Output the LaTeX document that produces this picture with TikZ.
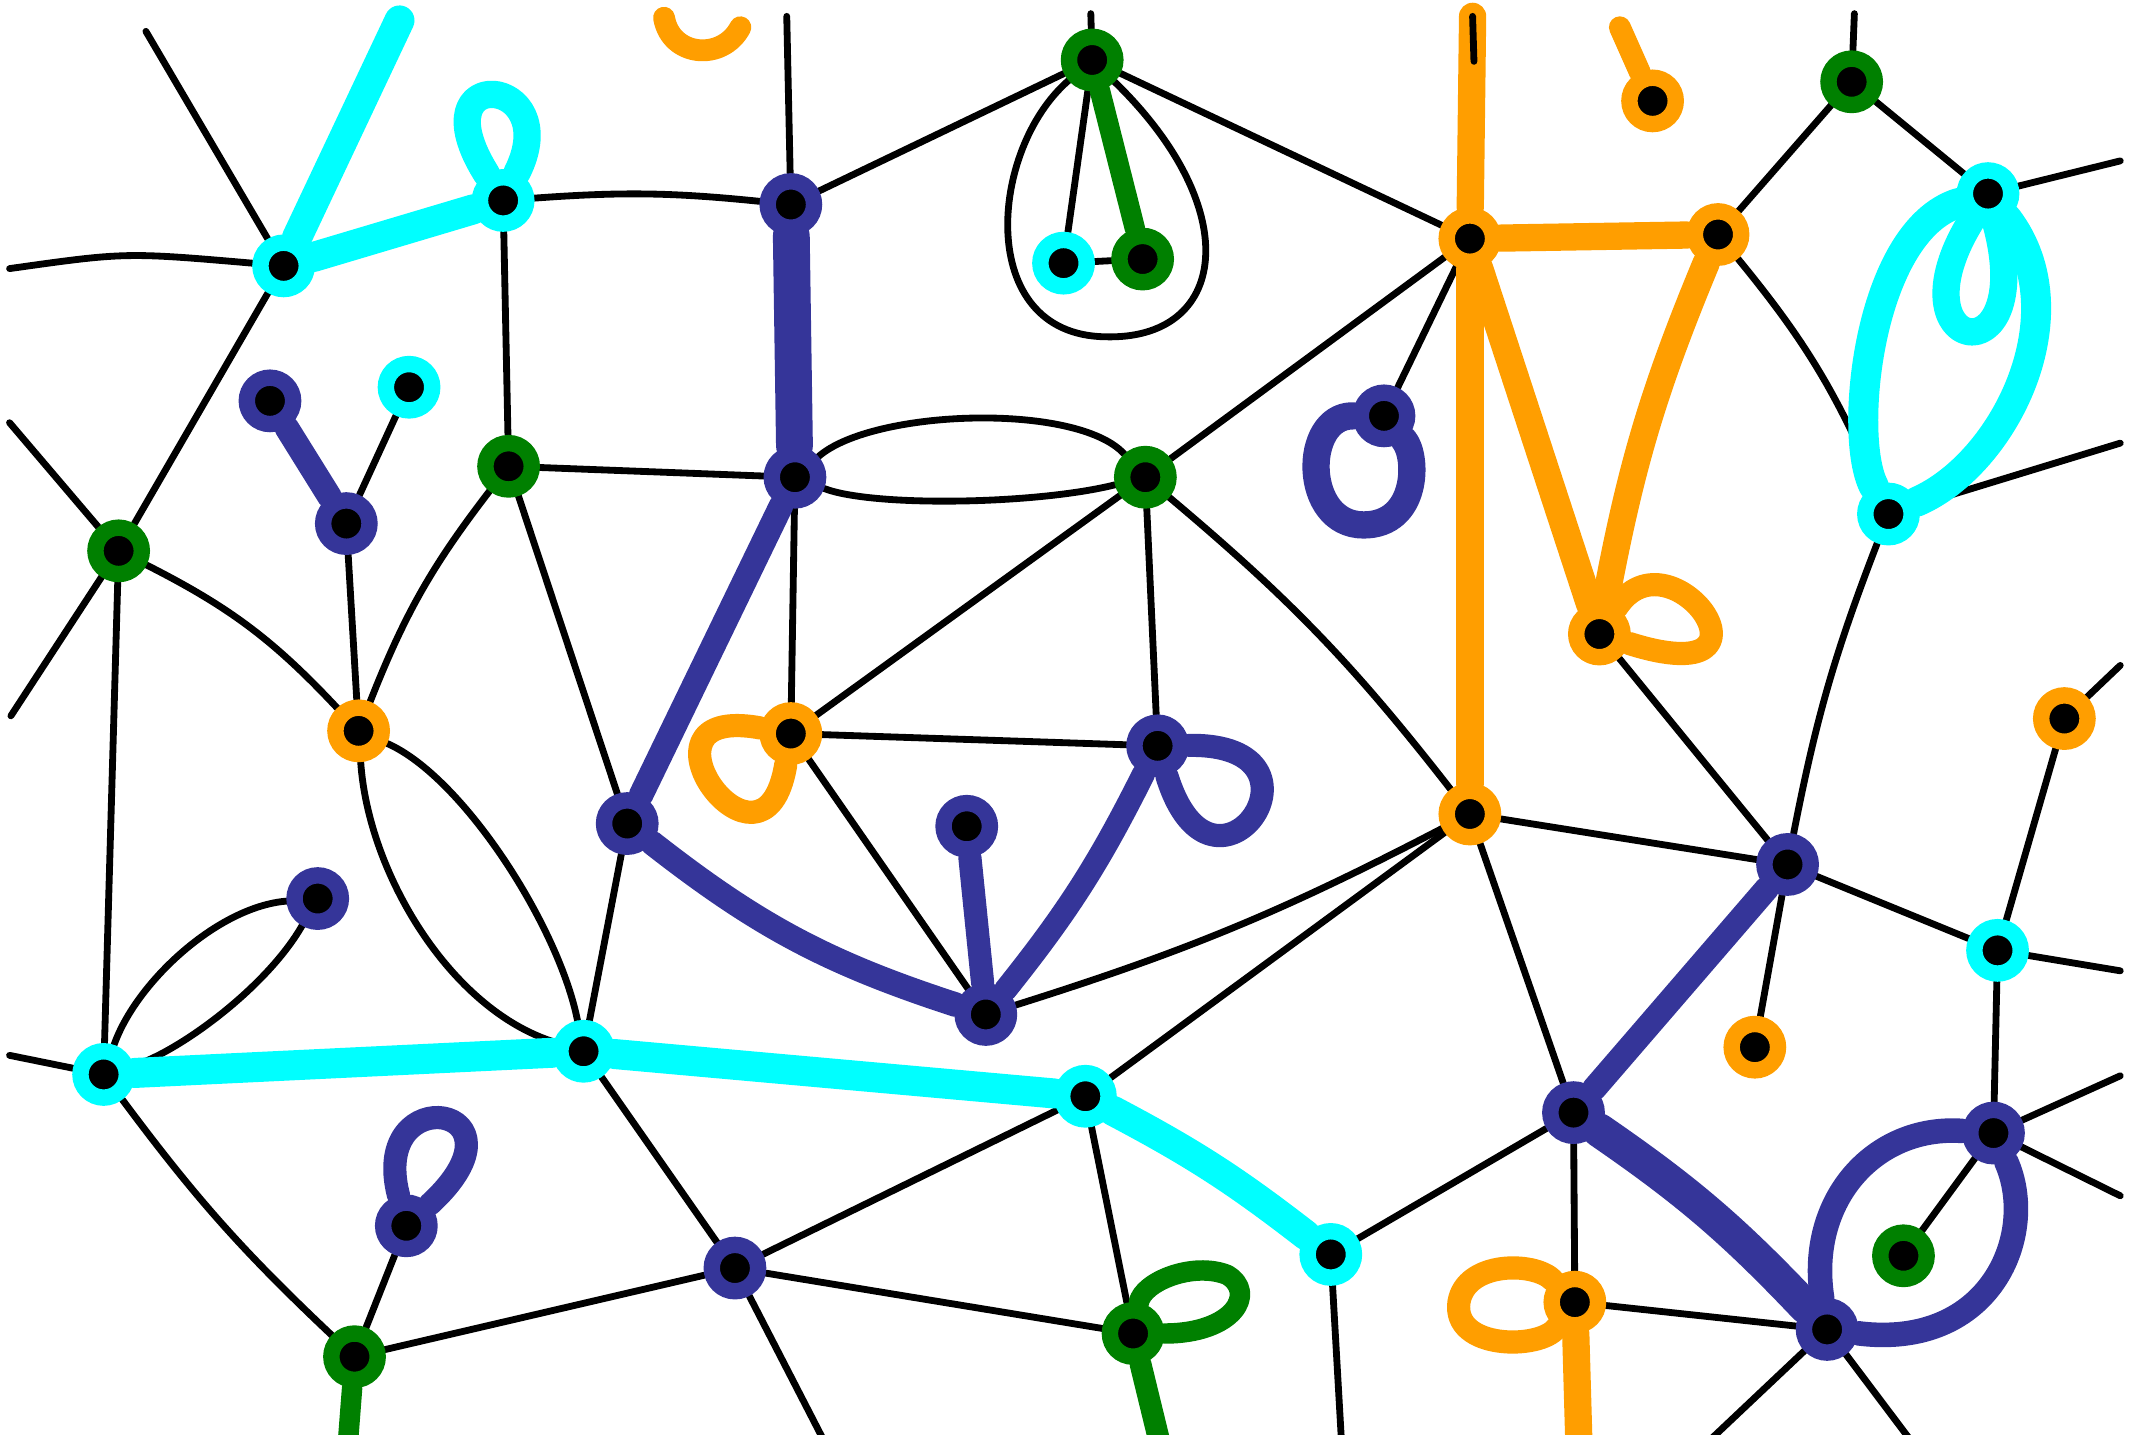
\documentclass[tikz,border=0pt]{standalone}
\usetikzlibrary{backgrounds}
\definecolor{cyanc}{RGB}{0,255,255}
\definecolor{navyc}{RGB}{53,53,153}
\definecolor{greenc}{RGB}{0,128,0}
\definecolor{orangec}{RGB}{255,158,0}
\tikzset{
  vtx/.style={circle, fill=black, inner sep=0pt, minimum size=0.34cm, line width=0.12cm},
  cy/.style={vtx, draw=cyanc},
  nv/.style={vtx, draw=navyc},
  gr/.style={vtx, draw=greenc},
  og/.style={vtx, draw=orangec},
  ln/.style={line width=0.05cm, line cap=round, line join=round},
  fat/.style={line width=#1, line cap=round, line join=round},
  fat/.default=0.2cm
}
\begin{document}
\begin{tikzpicture}[x=0.01cm, y=-0.01cm]
\useasboundingbox (0,0) rectangle (1568,1052);
% vertices
\node[cy] (c1) at (208,195) {};
\node[cy] (c2) at (369,147) {};
\node[cy] (c3) at (780,193) {};
\node[cy] (c4) at (300,284) {};
\node[cy] (c5) at (1458,142) {};
\node[cy] (c6) at (1385,377) {};
\node[cy] (c7) at (1465,697) {};
\node[cy] (c8) at (76,788) {};
\node[cy] (c9) at (428,771) {};
\node[cy] (c10) at (796,804) {};
\node[cy] (c11) at (976,920) {};
\node[nv] (n1) at (580,150) {};
\node[nv] (n2) at (198,294) {};
\node[nv] (n3) at (583,350) {};
\node[nv] (n4) at (1015,305) {};
\node[nv] (n5) at (254,384) {};
\node[nv] (n6) at (849,547) {};
\node[nv] (n7) at (460,604) {};
\node[nv] (n8) at (709,606) {};
\node[nv] (n9) at (1311,634) {};
\node[nv] (n10) at (233,659) {};
\node[nv] (n11) at (723,744) {};
\node[nv] (n12) at (1154,816) {};
\node[nv] (n13) at (1462,831) {};
\node[nv] (n14) at (298,899) {};
\node[nv] (n15) at (539,930) {};
\node[nv] (n16) at (1340,975) {};
\node[gr] (g1) at (801,44) {};
\node[gr] (g2) at (838,190) {};
\node[gr] (g3) at (373,342) {};
\node[gr] (g4) at (840,350) {};
\node[gr] (g5) at (87,404) {};
\node[gr] (g6) at (1358,60) {};
\node[gr] (g7) at (1396,921) {};
\node[gr] (g8) at (831,978) {};
\node[gr] (g9) at (260,995) {};
\node[og] (o1) at (1078,175) {};
\node[og] (o2) at (1212,74) {};
\node[og] (o3) at (1260,172) {};
\node[og] (o4) at (1173,465) {};
\node[og] (o5) at (263,536) {};
\node[og] (o6) at (580,538) {};
\node[og] (o7) at (1514,527) {};
\node[og] (o8) at (1078,597) {};
\node[og] (o9) at (1287,768) {};
\node[og] (o10) at (1155,955) {};
% loose ends
\coordinate (e1) at (293,15);
\coordinate (e2) at (7,197);
\coordinate (e3) at (107,23);
\coordinate (e4) at (577,12);
\coordinate (e5) at (800,10);
\coordinate (e6) at (1080,12);
\coordinate (e6b) at (1081,45);
\coordinate (e7) at (1188,20);
\coordinate (e8) at (1360,10);
\coordinate (e9) at (1555,118);
\coordinate (e10) at (1555,325);
\coordinate (e11) at (7,310);
\coordinate (e12) at (8,525);
\coordinate (e13) at (1555,488);
\coordinate (e14) at (1555,712);
\coordinate (e15) at (1555,789);
\coordinate (e16) at (1555,877);
\coordinate (e17) at (7,774);
\coordinate (e18) at (255,1060);
\coordinate (e19) at (606,1060);
\coordinate (e20) at (851,1060);
\coordinate (e21) at (984,1060);
\coordinate (e22) at (1158,1060);
\coordinate (e23) at (1250,1060);
\coordinate (e24) at (1404,1060);
\begin{scope}[on background layer]
% black edges
\draw[ln] (e2) .. controls (92,185) .. (c1);
\draw[ln] (e3) -- (c1);
\draw[ln] (c1) -- (g5);
\draw[ln] (c2) to[bend left=5] (n1);
\draw[ln] (c2) -- (g3);
\draw[ln] (n1) -- (e4);
\draw[ln] (n1) -- (g1);
\draw[ln] (g1) -- (e5);
\draw[ln] (g1) -- (c3);
\draw[ln] (c3) -- (g2);
\draw[ln] (g1) .. controls (725,110) and (715,245) .. (810,247) .. controls (900,250) and (915,155) .. (g1);
\draw[ln] (g1) -- (o1);
\draw[ln] (o3) -- (g6);
\draw[ln] (g6) -- (e8);
\draw[ln] (g6) -- (c5);
\draw[ln] (c5) -- (e9);
\draw[ln] (o3) to[bend left=8] (c6);
\draw[ln] (c6) -- (e10);
\draw[ln] (c6) to[bend right=5] (n9);
\draw[ln] (o4) -- (n9);
\draw[ln] (g3) -- (n3);
\draw[ln] (g3) to[bend right=8] (o5);
\draw[ln] (g3) -- (n7);
\draw[ln] (c4) -- (n5);
\draw[ln] (n5) -- (o5);
\draw[ln] (g5) to[bend left=10] (o5);
\draw[ln] (g5) -- (c8);
\draw[ln] (e11) -- (g5);
\draw[ln] (e12) -- (g5);
\draw[ln] (n3) .. controls (640,300) and (790,295) .. (g4);
\draw[ln] (n3) .. controls (640,372) and (760,370) .. (g4);
\draw[ln] (n3) -- (o6);
\draw[ln] (g4) -- (o1);
\draw[ln] (g4) -- (n6);
\draw[ln] (g4) -- (o6);
\draw[ln] (g4) to[bend left=6] (o8);
\draw[ln] (o1) -- (n4);
\draw[ln] (o6) -- (n6);
\draw[ln] (o6) -- (n11);
\draw[ln] (n7) -- (c9);
\draw[ln] (o5) .. controls (270,640) and (330,740) .. (c9);
\draw[ln] (o5) .. controls (340,570) and (410,680) .. (c9);
\draw[ln] (c9) -- (n15);
\draw[ln] (c8) .. controls (100,720) and (160,665) .. (n10);
\draw[ln] (c8) .. controls (130,772) and (195,725) .. (n10);
\draw[ln] (e17) -- (c8);
\draw[ln] (c8) to[bend right=5] (g9);
\draw[ln] (n14) -- (g9);
\draw[ln] (g9) -- (n15);
\draw[ln] (n15) -- (c10);
\draw[ln] (n15) -- (g8);
\draw[ln] (n15) -- (e19);
\draw[ln] (c10) -- (g8);
\draw[ln] (c10) -- (o8);
\draw[ln] (n11) to[bend right=5] (o8);
\draw[ln] (o8) -- (n9);
\draw[ln] (o8) -- (n12);
\draw[ln] (n9) -- (c7);
\draw[ln] (n9) -- (o9);
\draw[ln] (o7) -- (c7);
\draw[ln] (o7) -- (e13);
\draw[ln] (c7) -- (e14);
\draw[ln] (c7) -- (n13);
\draw[ln] (n13) -- (e15);
\draw[ln] (n13) -- (e16);
\draw[ln] (n13) -- (g7);
\draw[ln] (c11) -- (n12);
\draw[ln] (c11) -- (e21);
\draw[ln] (n12) -- (o10);
\draw[ln] (o10) -- (n16);
\draw[ln] (n16) -- (e23);
\draw[ln] (n16) -- (e24);
% cyan
\draw[fat=0.22cm, cyanc] (c1) -- (e1);
\draw[fat=0.22cm, cyanc] (c1) -- (c2);
\draw[fat, cyanc] (c2) .. controls (305,45) and (415,55) .. (c2);
\draw[fat=0.22cm, cyanc] (c5) .. controls (1370,170) and (1355,320) .. (c6);
\draw[fat=0.22cm, cyanc] (c6) .. controls (1470,340) and (1525,230) .. (c5);
\draw[fat, cyanc] (c5) .. controls (1385,260) and (1495,280) .. (c5);
\draw[fat=0.22cm, cyanc] (c8) -- (c9);
\draw[fat=0.22cm, cyanc] (c9) -- (c10);
\draw[fat=0.22cm, cyanc] (c10) to[bend left=5] (c11);
% navy
\draw[fat=0.27cm, navyc] (n1) -- (n3);
\draw[fat=0.18cm, navyc] (n2) -- (n5);
\draw[fat=0.18cm, navyc] (n3) -- (n7);
\draw[fat=0.18cm, navyc] (n7) to[bend right=10] (n11);
\draw[fat=0.17cm, navyc] (n8) -- (n11);
\draw[fat=0.17cm, navyc] (n6) to[bend left=6] (n11);
\draw[fat=0.17cm, navyc] (n6) .. controls (985,545) and (890,680) .. (n6);
\draw[fat, navyc] (n4) .. controls (955,305) and (955,385) .. (1000,385) .. controls (1040,385) and (1040,335) .. (n4);
\draw[fat=0.18cm, navyc] (n9) -- (n12);
\draw[fat=0.25cm, navyc] (n12) to[bend left=6] (n16);
\draw[fat=0.18cm, navyc] (n13) .. controls (1375,825) and (1325,880) .. (n16);
\draw[fat=0.18cm, navyc] (n13) .. controls (1495,905) and (1460,990) .. (n16);
\draw[fat=0.17cm, navyc] (n14) .. controls (270,790) and (395,810) .. (n14);
% green
\draw[fat=0.15cm, greenc] (g1) -- (g2);
\draw[fat=0.15cm, greenc] (g8) .. controls (838,940) and (875,925) .. (900,935) .. controls (922,948) and (905,978) .. (g8);
\draw[fat=0.16cm, greenc] (g8) -- (e20);
\draw[fat=0.15cm, greenc] (g9) -- (e18);
% orange
\draw[fat, orangec] (o1) -- (e6);
\draw[fat=0.16cm, orangec] (o2) -- (e7);
\draw[fat, orangec] (o1) -- (o3);
\draw[fat, orangec] (o1) -- (o8);
\draw[fat, orangec] (o1) -- (o4);
\draw[fat, orangec] (o3) to[bend right=6] (o4);
\draw[fat=0.17cm, orangec] (o4) .. controls (1225,385) and (1315,510) .. (o4);
\draw[fat=0.17cm, orangec] (o6) .. controls (455,515) and (560,660) .. (o6);
\draw[fat=0.17cm, orangec] (o10) .. controls (1125,925) and (1075,925) .. (1070,955) .. controls (1065,990) and (1130,990) .. (o10);
\draw[fat, orangec] (o10) -- (e22);
\draw[fat=0.16cm, orangec] (487,13) .. controls (492,42) and (530,45) .. (543,20);
\draw[ln] (e6) -- (e6b);
\end{scope}
\end{tikzpicture}
\end{document}
